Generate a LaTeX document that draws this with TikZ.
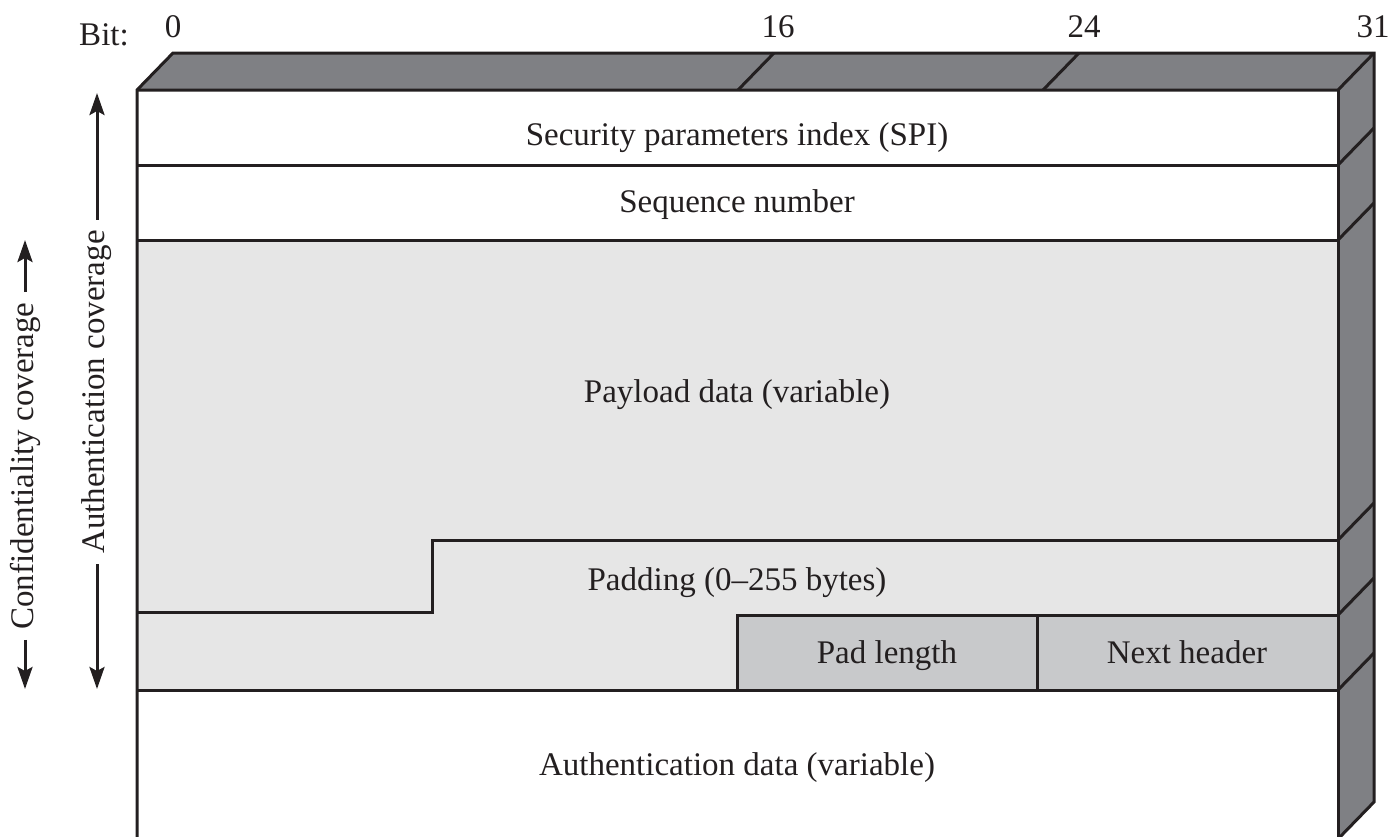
\documentclass[tikz,border=0pt]{standalone}
\usepackage{fontspec}
\setmainfont{Liberation Serif}
\usetikzlibrary{arrows.meta}
\definecolor{facegray}{RGB}{127,128,132}
\definecolor{lightfill}{RGB}{230,230,230}
\definecolor{midfill}{RGB}{200,201,203}
\definecolor{ink}{RGB}{35,31,32}
\begin{document}
\begin{tikzpicture}[x=0.5pt,y=-0.5pt,
  edge/.style={draw=ink,line width=1.5pt,line join=miter},
  lbl/.style={font=\fontsize{16.5}{19}\selectfont,text=ink,inner sep=0pt,anchor=base},
  cov/.style={font=\fontsize{16.5}{19}\selectfont,text=ink,rotate=90,inner sep=5pt},
  covarrow/.style={draw=ink,line width=1.5pt,-{Stealth[length=11pt,width=7.5pt,inset=2pt]}}]
\useasboundingbox (0,0) rectangle (1393,836);
\clip (0,0) rectangle (1393,836);
% faces
\fill[facegray] (137,90) -- (173,53) -- (1374,53) -- (1338,90) -- cycle;
\fill[facegray] (1338,90) -- (1374,53) -- (1374,802) -- (1338,839) -- cycle;
\fill[white] (137,90) rectangle (1338,840);
\fill[lightfill] (137,240) rectangle (1338,690);
\fill[midfill] (737,615) rectangle (1338,690);
% outlines of faces
\draw[edge] (137,840) -- (137,90) -- (173,53) -- (1374,53) -- (1374,802) -- (1338,839);
\draw[edge] (137,90) -- (1338,90) -- (1374,53);
\draw[edge] (1338,90) -- (1338,840);
\draw[edge] (738,90) -- (774,53);
\draw[edge] (1043,90) -- (1079,53);
% rows
\foreach \y in {165,240,690} {\draw[edge] (137,\y) -- (1338,\y);}
\foreach \y in {165,240,540,615,690} {\draw[edge] (1338,\y) -- (1374,\y-37);}
\draw[edge] (137,612) -- (432,612) -- (432,540) -- (1338,540);
\draw[edge] (737,690) -- (737,615) -- (1338,615);
\draw[edge] (1037,615) -- (1037,690);
% labels
\node[lbl] (spi) at (737,145) {Security parameters index (SPI)};
\node[lbl] (seq) at (737,212) {Sequence number};
\node[lbl] (payload) at (737,402) {Payload data (variable)};
\node[lbl] (padding) at (737,590) {Padding (0–255 bytes)};
\node[lbl] (padlen) at (887,663) {Pad length};
\node[lbl] (nexth) at (1187,663) {Next header};
\node[lbl] (authdata) at (737,775) {Authentication data (variable)};
% bit labels
\node[lbl] (bit) at (104,45) {Bit:};
\node[lbl] (b0) at (173,37) {0};
\node[lbl] (b16) at (778,37) {16};
\node[lbl] (b24) at (1084,37) {24};
\node[lbl] (b31) at (1373,37) {31};
% coverage arrows
\coordinate (atop) at (97,93);
\coordinate (abot) at (97,689);
\node[cov] (auth) at (97,392) {Authentication coverage};
\draw[covarrow] (auth.east) -- (atop);
\draw[covarrow] (auth.west) -- (abot);
\coordinate (ctop) at (25,240);
\coordinate (cbot) at (25,689);
\node[cov] (conf) at (25,466) {Confidentiality coverage};
\draw[covarrow] (conf.east) -- (ctop);
\draw[covarrow] (conf.west) -- (cbot);
\end{tikzpicture}
\end{document}
